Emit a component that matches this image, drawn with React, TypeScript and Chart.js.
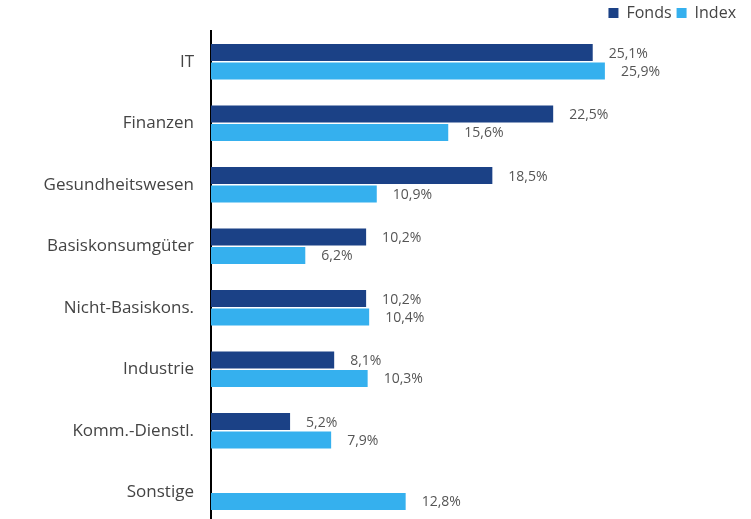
import React, { useEffect, useRef } from "react";
import { Chart, registerables } from "chart.js";

Chart.register(...registerables);

const categories = ["IT", "Finanzen", "Gesundheitswesen", "Basiskonsumgüter", "Nicht-Basiskons.", "Industrie", "Komm.-Dienstl.", "Sonstige"];
const fondsValues: (number | null)[] = [25.1, 22.5, 18.5, 10.2, 10.2, 8.1, 5.2, null];
const indexValues: (number | null)[] = [25.9, 15.6, 10.9, 6.2, 10.4, 10.3, 7.9, 12.8];
const seriesNames = ["Fonds", "Index"];

const FONT = "'Open Sans', sans-serif";

const valueLabels = {
  id: "valueLabels",
  afterDatasetsDraw(chart: any) {
    const ctx = chart.ctx;
    ctx.save();
    ctx.font = `14px ${FONT}`;
    ctx.fillStyle = "#555555";
    ctx.textBaseline = "middle";
    ctx.textAlign = "left";
    chart.data.datasets.forEach((ds: any, di: number) => {
      const meta = chart.getDatasetMeta(di);
      meta.data.forEach((el: any, i: number) => {
        const v = ds.data[i];
        if (v === null || v === undefined) return;
        const txt = v.toFixed(1).replace(".", ",") + "%";
        ctx.fillText(txt, el.x + 16, el.y + 1);
      });
    });
    ctx.restore();
  },
};

export default function App() {
  const ref = useRef<HTMLCanvasElement>(null);
  useEffect(() => {
    const chart = new Chart(ref.current!, {
      type: "bar",
      data: {
        labels: categories,
        datasets: [
          { label: seriesNames[0], data: fondsValues, backgroundColor: "#1b4186" },
          { label: seriesNames[1], data: indexValues, backgroundColor: "#35b0ee" },
        ],
      },
      options: {
        indexAxis: "y",
        animation: false,
        responsive: false,
        maintainAspectRatio: false,
        layout: { padding: { left: 0, right: 10, top: 0, bottom: 0 } },
        categoryPercentage: 0.6,
        barPercentage: 0.92,
        scales: {
          x: { display: false, min: 0, max: 34.85 },
          y: {
            afterFit: (scale: any) => { scale.width = 211; scale.paddingTop = 0; scale.paddingBottom = 0; },
            grid: { display: false, drawTicks: false },
            border: { display: true, color: "#000000", width: 2 },
            ticks: { font: { family: FONT, size: 17 }, color: "#444444", padding: 17 },
          },
        },
        plugins: {
          legend: {
            position: "top",
            align: "end",
            labels: { font: { family: FONT, size: 16 }, color: "#444444", boxWidth: 10, boxHeight: 10, padding: 5 },
          },
          tooltip: { enabled: false },
        },
      } as any,
      plugins: [valueLabels],
    });
    return () => chart.destroy();
  }, []);
  return (
    <div style={{ position: "fixed", left: 0, top: 0, width: 751, height: 519, overflow: "hidden" }}>
      <canvas ref={ref} width={751} height={523} style={{ display: "block" }} />
    </div>
  );
}
